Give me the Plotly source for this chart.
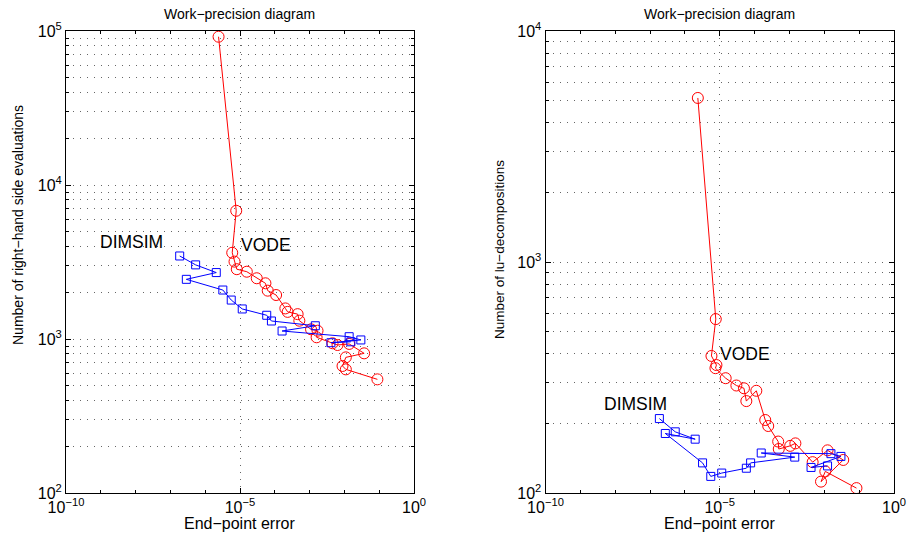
import numpy as np
import plotly.graph_objects as go

# ---------------- data ----------------
# Left panel: number of right-hand side evaluations vs end-point error
vode_rhs_err = [2.42e-6, 7.78e-6, 5.98e-6, 6.95e-6, 8.09e-6, 1.57e-5, 3.03e-5, 5.38e-5,
                6.27e-5, 1.09e-4, 2.01e-4, 2.34e-4, 4.53e-4, 5.07e-4, 1.10e-3, 1.69e-3,
                1.59e-3, 4.56e-3, 6.34e-3, 1.37e-2, 3.69e-2, 1.10e-2, 8.83e-3, 1.10e-2, 8.87e-2]
vode_rhs_cnt = [91800, 6800, 3630, 3180, 2840, 2735, 2480, 2300,
                2060, 1930, 1580, 1500, 1450, 1315, 1156, 1132,
                1026, 938, 914, 929, 807, 760, 668, 635, 547]

dimsim_rhs_err = [1.85e-7, 5.31e-7, 2.08e-6, 2.87e-7, 3.21e-6, 5.60e-6, 1.16e-5, 5.86e-5,
                  8.0e-5, 1.46e-3, 1.62e-4, 1.37e-2, 2.97e-2, 4.10e-3, 1.53e-2]
dimsim_rhs_cnt = [3460, 3030, 2700, 2440, 2080, 1790, 1567, 1426,
                  1309, 1219, 1127, 1035, 986, 946, 959]

# Right panel: number of LU decompositions vs end-point error
vode_lu_err = [2.35e-6, 7.69e-6, 5.78e-6, 8.04e-6, 7.52e-6, 1.48e-5, 3.0e-5, 4.95e-5,
               5.79e-5, 1.12e-4, 2.02e-4, 2.46e-4, 4.75e-4, 4.94e-4, 1.05e-3, 1.48e-3,
               4.63e-3, 1.24e-2, 3.49e-2, 8.04e-3, 1.07e-2, 8.37e-2]
vode_lu_cnt = [5130, 566, 392, 358, 347, 314, 292, 284,
               250, 277, 207, 195, 167, 155, 160, 164,
               136, 153, 139, 112, 124, 105]

dimsim_lu_err = [1.85e-7, 5.28e-7, 1.97e-6, 2.74e-7, 3.21e-6, 5.53e-6, 1.14e-5, 5.79e-5,
                 7.69e-5, 1.42e-3, 1.55e-4, 1.55e-2, 3.0e-2, 4.17e-3, 1.24e-2]
dimsim_lu_cnt = [210, 184, 171, 181, 135, 118, 122, 128,
                 135, 143, 149, 148, 144, 129, 131]

x_tickvals = [1e-10, 1e-5, 1e0]
x_ticktext = ["10<sup>\u221210</sup>", "10<sup>\u22125</sup>", "10<sup>0</sup>"]
y1_tickvals = [1e2, 1e3, 1e4, 1e5]
y1_ticktext = ["10<sup>2</sup>", "10<sup>3</sup>", "10<sup>4</sup>", "10<sup>5</sup>"]
y2_tickvals = [1e2, 1e3, 1e4]
y2_ticktext = ["10<sup>2</sup>", "10<sup>3</sup>", "10<sup>4</sup>"]

title_text = "Work\u2212precision diagram"
xlabel_text = "End\u2212point error"
y1_label = "Number of right\u2212hand side evaluations"
y2_label = "Number of lu\u2212decompositions"

# label positions (log10 data coordinates)
labels_left = [("DIMSIM", -8.12, 3.63), ("VODE", -4.25, 3.608)]
labels_right = [("DIMSIM", -7.42, 2.385), ("VODE", -4.28, 2.603)]

# ---------------- figure ----------------
RED = "#ff0000"
BLUE = "#0000ff"
FONT = "Liberation Sans, Arial, Helvetica, sans-serif"

fig = go.Figure()

def add_series(x, y, color, symbol, size, xa, ya):
    fig.add_trace(go.Scatter(
        x=x, y=y, mode="lines+markers",
        line=dict(color=color, width=1),
        marker=dict(symbol=symbol, size=size, color=color, line=dict(color=color, width=1)),
        xaxis=xa, yaxis=ya, showlegend=False, hoverinfo="x+y"))

add_series(vode_rhs_err, vode_rhs_cnt, RED, "circle-open", 11, "x", "y")
add_series(dimsim_rhs_err, dimsim_rhs_cnt, BLUE, "square-open", 8, "x", "y")
add_series(vode_lu_err, vode_lu_cnt, RED, "circle-open", 11, "x2", "y2")
add_series(dimsim_lu_err, dimsim_lu_cnt, BLUE, "square-open", 8, "x2", "y2")

W, H = 907, 535
xd1 = [66 / W, 414 / W]
xd2 = [545.5 / W, 894 / W]
yd = [(H - 493) / H, (H - 31) / H]

grid_dash = "1px,6px"
grid_col = "#666666"

x_minor = [10.0 ** k for k in range(-9, 0) if k != -5]

def xaxis_cfg(domain, anchor):
    return dict(type="log", range=[-10, 0], domain=domain, anchor=anchor,
                automargin=False,
                tickmode="array", tickvals=x_tickvals, ticktext=x_ticktext,
                ticks="inside", ticklen=5, tickcolor="black", tickwidth=1,
                showline=True, linecolor="black", linewidth=1, mirror="allticks",
                showgrid=True, gridcolor=grid_col, griddash=grid_dash, gridwidth=1,
                zeroline=False,
                tickfont=dict(family=FONT, size=16, color="black"),
                minor=dict(tickvals=x_minor, ticks="inside", ticklen=3,
                           tickcolor="black", showgrid=False))

def yaxis_cfg(domain, anchor, lo, hi, tv, tt):
    minor = [m * 10.0 ** k for k in range(lo, hi) for m in range(2, 10)]
    return dict(type="log", range=[lo, hi], domain=domain, anchor=anchor,
                automargin=False,
                tickmode="array", tickvals=tv, ticktext=tt,
                ticks="inside", ticklen=5, tickcolor="black", tickwidth=1,
                showline=True, linecolor="black", linewidth=1, mirror="allticks",
                showgrid=True, gridcolor=grid_col, griddash=grid_dash, gridwidth=1,
                zeroline=False,
                tickfont=dict(family=FONT, size=16, color="black"),
                minor=dict(tickvals=minor, ticks="inside", ticklen=3,
                           tickcolor="black", showgrid=True,
                           gridcolor=grid_col, griddash=grid_dash, gridwidth=1))

fig.update_layout(
    width=W, height=H,
    margin=dict(l=0, r=0, t=0, b=0, autoexpand=False),
    paper_bgcolor="white", plot_bgcolor="white",
    xaxis=xaxis_cfg(xd1, "y"),
    yaxis=yaxis_cfg(yd, "x", 2, 5, y1_tickvals, y1_ticktext),
    xaxis2=xaxis_cfg(xd2, "y2"),
    yaxis2=yaxis_cfg(yd, "x2", 2, 4, y2_tickvals, y2_ticktext),
    font=dict(family=FONT, color="black"),
    hovermode=False,
)

ann = []
for xc in [(xd1[0] + xd1[1]) / 2, (xd2[0] + xd2[1]) / 2]:
    ann.append(dict(text=title_text, x=xc, y=(H - 14) / H, xref="paper", yref="paper",
                    showarrow=False, xanchor="center", yanchor="middle",
                    font=dict(size=14, family=FONT)))
    ann.append(dict(text=xlabel_text, x=xc, y=(H - 523) / H, xref="paper", yref="paper",
                    showarrow=False, xanchor="center", yanchor="middle",
                    font=dict(size=16, family=FONT)))
ann.append(dict(text=y1_label, x=18 / W, y=(H - 225) / H, xref="paper", yref="paper",
                showarrow=False, textangle=-90, xanchor="center", yanchor="middle",
                font=dict(size=14, family=FONT)))
ann.append(dict(text=y2_label, x=499 / W, y=(H - 250) / H, xref="paper", yref="paper",
                showarrow=False, textangle=-90, xanchor="center", yanchor="middle",
                font=dict(size=13.5, family=FONT)))
for txt, lx, ly in labels_left:
    ann.append(dict(text=txt, x=lx, y=ly, xref="x", yref="y", showarrow=False,
                    xanchor="center", yanchor="middle", font=dict(size=17.5, family=FONT)))
for txt, lx, ly in labels_right:
    ann.append(dict(text=txt, x=lx, y=ly, xref="x2", yref="y2", showarrow=False,
                    xanchor="center", yanchor="middle", font=dict(size=17.5, family=FONT)))
fig.update_layout(annotations=ann)

fig.write_html("out.html",
               config={"displayModeBar": False, "staticPlot": True},
               post_script="document.body.style.margin='0px';document.body.style.overflow='hidden';")
